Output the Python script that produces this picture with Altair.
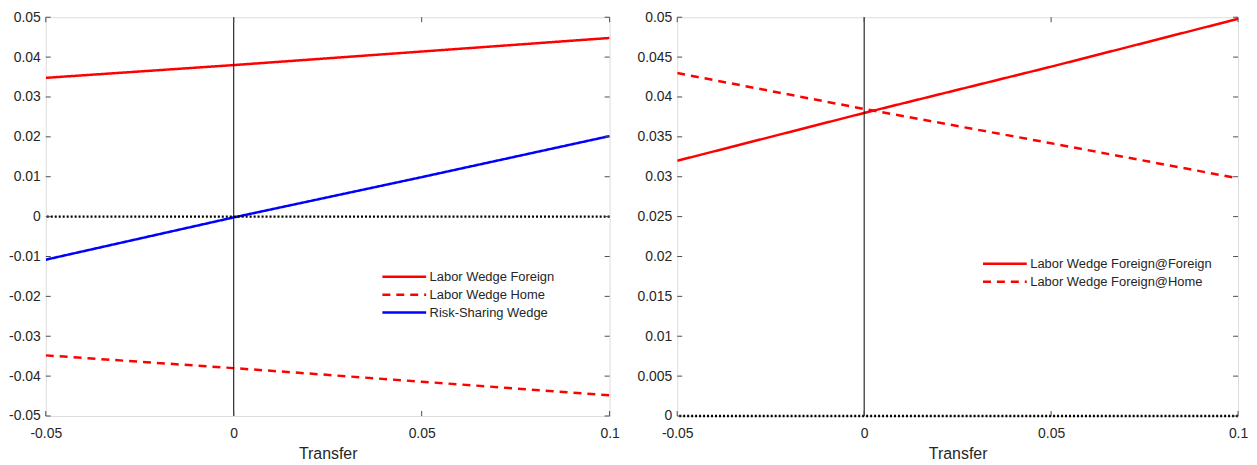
import altair as alt
import pandas as pd

# ---------------- data ----------------
x_vals = [-0.05, 0.0, 0.05, 0.1]

# left panel
lw_foreign = [0.0348, 0.0380, 0.0414, 0.0448]
lw_home = [-0.0348, -0.0380, -0.0414, -0.0448]
rs_wedge = [-0.0108, -0.0002, 0.0099, 0.0202]
left_series = ["Labor Wedge Foreign", "Labor Wedge Home", "Risk-Sharing Wedge"]

# right panel
lw_ff = [0.0320, 0.0380, 0.0438, 0.0498]
lw_fh = [0.0430, 0.0385, 0.0342, 0.0298]
right_series = ["Labor Wedge Foreign@Foreign", "Labor Wedge Foreign@Home"]

x_ticks = [-0.05, 0, 0.05, 0.1]
left_y_ticks = [-0.05, -0.04, -0.03, -0.02, -0.01, 0, 0.01, 0.02, 0.03, 0.04, 0.05]
right_y_ticks = [0, 0.005, 0.01, 0.015, 0.02, 0.025, 0.03, 0.035, 0.04, 0.045, 0.05]

FONT = "Liberation Sans"
TXT = "#262626"
BOX = "#4d4d4d"
H = 401


def long_df(series_names, series_values):
    rows = []
    for name, vals in zip(series_names, series_values):
        for xv, yv in zip(x_vals, vals):
            rows.append({"x": xv, "y": yv, "series": name})
    return pd.DataFrame(rows)


def panel(df, series, colors, dashes, ydomain, yticks, W, legx, legy):
    xs = alt.Scale(domain=[-0.05, 0.1], nice=False, zero=False)
    ys = alt.Scale(domain=ydomain, nice=False, zero=False)
    xaxis = alt.Axis(
        values=x_ticks, labelExpr="'' + datum.value", title="Transfer", tickSize=0,
        labelPadding=11, titlePadding=5, domain=False, grid=False, labelFlush=False,
        labelFont=FONT, labelFontSize=14, labelColor=TXT,
        titleFont=FONT, titleFontSize=16, titleColor=TXT,
        titleFontWeight="normal")
    yaxis = alt.Axis(
        values=yticks, labelExpr="'' + datum.value", title=None, tickSize=0,
        labelPadding=5.5, domain=False, grid=False, labelFlush=False,
        labelFont=FONT, labelFontSize=14, labelColor=TXT)

    leg = alt.Legend(
        title=None, orient="none", legendX=legx, legendY=legy,
        symbolType="M-1,0H7", symbolSize=121, symbolStrokeWidth=2.5,
        labelFont=FONT, labelFontSize=13, labelColor=TXT,
        rowPadding=4, padding=0, labelOffset=35, labelLimit=400,
    )

    lines = alt.Chart(df).mark_line(strokeWidth=2.5, clip=True).encode(
        x=alt.X("x:Q", scale=xs, axis=xaxis, title="Transfer"),
        y=alt.Y("y:Q", scale=ys, axis=yaxis, title=None),
        color=alt.Color("series:N", scale=alt.Scale(domain=series, range=colors), legend=leg),
        strokeDash=alt.StrokeDash("series:N", scale=alt.Scale(domain=series, range=dashes), legend=leg),
    )

    zero = alt.Chart(pd.DataFrame({"v": [0]})).mark_rule(
        color="black", strokeWidth=2.3, strokeDash=[2, 2]
    ).encode(y=alt.Y("v:Q", scale=ys, axis=yaxis, title=None))

    vline = alt.Chart(pd.DataFrame({"v": [0]})).mark_rule(
        color="black", strokeWidth=1
    ).encode(x=alt.X("v:Q", scale=xs, axis=xaxis, title="Transfer"))

    xt = pd.DataFrame({"t": x_ticks})
    yt = pd.DataFrame({"t": yticks})
    tick_style = dict(color=BOX, strokeWidth=1)
    xt_bot = alt.Chart(xt).mark_rule(**tick_style).encode(
        x=alt.X("t:Q", scale=xs, axis=xaxis, title="Transfer"), y=alt.value(H), y2=alt.value(H - 5))
    xt_top = alt.Chart(xt).mark_rule(**tick_style).encode(
        x=alt.X("t:Q", scale=xs, axis=xaxis, title="Transfer"), y=alt.value(0), y2=alt.value(5))
    yt_left = alt.Chart(yt).mark_rule(**tick_style).encode(
        y=alt.Y("t:Q", scale=ys, axis=yaxis, title=None), x=alt.value(0), x2=alt.value(5))
    yt_right = alt.Chart(yt).mark_rule(**tick_style).encode(
        y=alt.Y("t:Q", scale=ys, axis=yaxis, title=None), x=alt.value(W), x2=alt.value(W - 5))

    return alt.layer(lines, zero, vline, xt_bot, xt_top, yt_left, yt_right).properties(
        width=W, height=H)


left_df = long_df(left_series, [lw_foreign, lw_home, rs_wedge])
right_df = long_df(right_series, [lw_ff, lw_fh])

left = panel(left_df, left_series, ["#ff0000", "#ff0000", "#0000ff"],
             [[1, 0], [8, 6], [1, 0]], [-0.05, 0.05], left_y_ticks,
             567, 337, 254)
right = panel(right_df, right_series, ["#ff0000", "#ff0000"],
              [[1, 0], [8, 6]], [0, 0.05], right_y_ticks,
              564, 306, 241)

chart = alt.hconcat(left, right, spacing=15).resolve_scale(
    color="independent", strokeDash="independent", x="independent", y="independent"
).resolve_legend(color="independent", strokeDash="independent").properties(
    padding={"left": 0, "top": 0, "right": 0, "bottom": 0}
).configure_view(stroke=BOX, strokeWidth=1).configure(background="white")

chart.save("out.html", embed_options={"renderer": "svg", "actions": False})
